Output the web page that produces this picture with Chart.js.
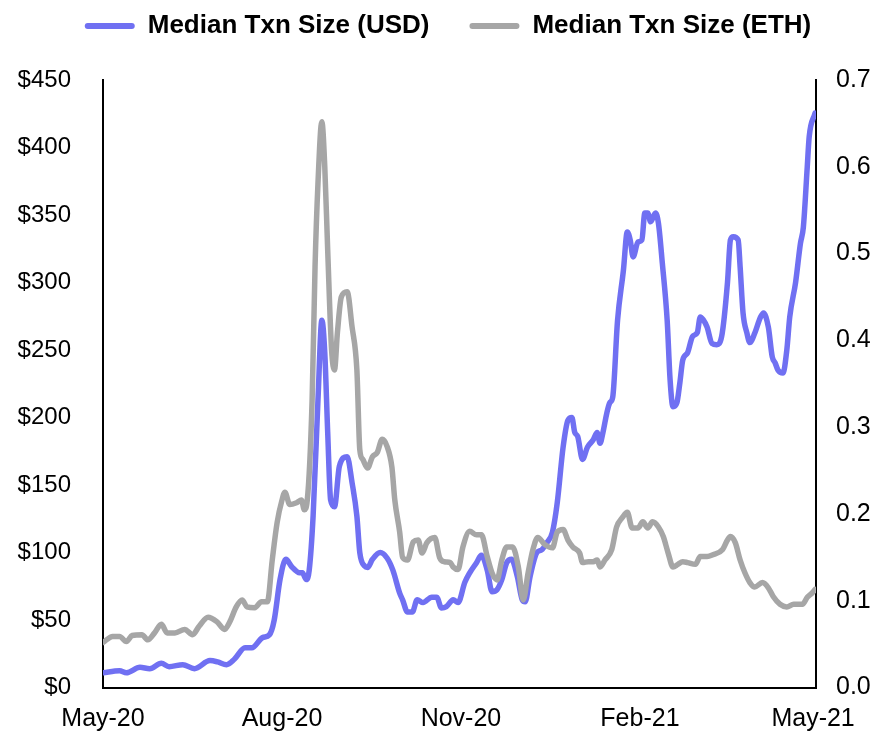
<!DOCTYPE html>
<html>
<head>
<meta charset="utf-8">
<script src="https://cdn.jsdelivr.net/npm/chart.js@4.4.1/dist/chart.umd.min.js"></script>
<style>
  html, body { margin: 0; padding: 0; background: #fff; }
  #chart { display: block; }
</style>
</head>
<body>
<canvas id="chart" width="896" height="734"></canvas>
<script>
// days counted from 1 May 2020
const tickDays = [0, 92, 184, 276, 365];
const tickLabels = ["May-20", "Aug-20", "Nov-20", "Feb-21", "May-21"];

const usdDays = [
  0, 8.5, 12, 19, 24, 30, 34, 41, 47, 55,
  59, 63.5, 67.5, 73, 76.5, 82, 85.5, 88, 91, 94,
  97, 101, 102.5, 104.5, 106, 108, 110.5, 112.5, 114, 115.5,
  117, 119, 121.5, 125.5, 128, 130.5, 132, 134.5, 136, 138.5,
  142.5, 146, 149, 152.5, 154, 156.5, 159, 161.5, 164.5, 169,
  171.5, 174, 176.5, 180, 182.5, 186, 188.5, 192, 194.5, 197.5,
  200, 202.5, 205, 207.5, 210, 213, 215.5, 217, 219.5, 223,
  225.5, 228, 231, 233.5, 236.5, 239, 241, 242.5, 244, 246.5,
  249, 252, 254, 255.5, 257, 259, 260.5, 262, 264.5, 267.5,
  269.5, 271, 272.5, 275, 277, 278.5, 280, 281.5, 284, 285.5,
  287.5, 290, 291.5, 293, 295, 296.5, 298, 300.5, 303, 305.5,
  307, 308.5, 310.5, 313, 315.5, 318, 321, 322.5, 324, 326.5,
  327.5, 329, 331, 332.5, 335, 338, 339.5, 342, 344, 345.5,
  347, 349.5, 351.5, 353, 356, 358.5, 360, 362, 363, 366
];
const usdValues = [
  11, 12.5, 11, 15, 14, 18, 15.5, 17, 14, 20,
  19, 17, 21, 29.5, 29.5, 37, 39, 50, 80, 95,
  89.5, 85, 85, 80, 87, 127, 213, 272, 248, 189,
  139, 134, 164, 171, 152, 127, 100, 90, 89, 95,
  100, 96, 87, 70, 65, 56, 56, 65, 63, 67,
  67, 59, 60, 65, 63, 78, 85, 92.5, 98, 87,
  71, 72.5, 80, 92.5, 95, 82, 65, 63.5, 82, 100,
  102, 107, 115, 137, 178, 198, 200, 189, 186, 169,
  178, 183.5, 189, 181, 189, 203.5, 211, 215, 272, 309,
  337.5, 331.5, 319, 330, 331.5, 351.5, 351.5, 345, 351.5, 344,
  314.5, 272, 228, 208, 211, 225.5, 242.5, 248, 260, 263,
  274.5, 272.5, 267, 255, 254, 260, 300, 331.5, 334, 331.5,
  311.5, 277.5, 262.5, 255.5, 262.5, 274.5, 277.5, 267, 245, 240.5,
  235, 233, 250, 274.5, 300, 329, 341, 385.5, 408, 425.5
];

const ethDays = [
  0, 5, 8.5, 12, 15, 20, 23, 26.5, 30, 33,
  37, 42, 46, 49.5, 54, 58.5, 62.5, 65, 68.5, 71.5,
  74, 78, 81.5, 84.5, 87, 89.5, 92, 93.5, 96, 99.5,
  102, 103.5, 105, 107.5, 109, 110.5, 112.5, 114, 115.5, 117.5,
  119, 120.5, 122.5, 125.5, 128, 130.5, 132, 133.5, 136, 138.5,
  141, 143.5, 146, 148.5, 150, 152.5, 154, 156.5, 159.5, 162,
  164, 166.5, 170.5, 173, 175.5, 178.5, 180, 182.5, 185, 188.5,
  192, 194.5, 197.5, 200, 202.5, 205, 207.5, 210.5, 213.5, 216,
  218.5, 221, 223.5, 227, 231, 233.5, 236.5, 239, 241.5, 245,
  246.5, 249.5, 252, 254, 255.5, 258, 261.5, 264, 267, 269.5,
  272, 275, 277.5, 280, 282.5, 285.5, 288, 290.5, 293, 295.5,
  298, 300.5, 304.5, 307, 310.5, 313.5, 318.5, 321, 322.5, 325,
  327.5, 330, 332.5, 335, 339, 342, 344.5, 348, 351.5, 355,
  359.5, 362, 364.5, 366
];
const ethValues = [
  0.052, 0.059, 0.059, 0.053, 0.060, 0.061, 0.055, 0.063, 0.073, 0.063,
  0.063, 0.067, 0.061, 0.071, 0.081, 0.076, 0.067, 0.075, 0.093, 0.101,
  0.093, 0.092, 0.099, 0.099, 0.147, 0.190, 0.216, 0.225, 0.211, 0.213,
  0.216, 0.205, 0.216, 0.332, 0.485, 0.581, 0.652, 0.600, 0.504, 0.389,
  0.366, 0.409, 0.450, 0.456, 0.416, 0.366, 0.274, 0.263, 0.253, 0.266,
  0.271, 0.286, 0.278, 0.254, 0.216, 0.179, 0.150, 0.147, 0.168, 0.170,
  0.155, 0.167, 0.173, 0.150, 0.145, 0.144, 0.139, 0.136, 0.162, 0.180,
  0.176, 0.176, 0.151, 0.132, 0.124, 0.147, 0.162, 0.162, 0.139, 0.101,
  0.132, 0.159, 0.173, 0.165, 0.161, 0.179, 0.182, 0.170, 0.162, 0.155,
  0.144, 0.145, 0.145, 0.147, 0.139, 0.147, 0.159, 0.185, 0.196, 0.202,
  0.184, 0.184, 0.191, 0.184, 0.191, 0.185, 0.174, 0.155, 0.139, 0.142,
  0.145, 0.144, 0.142, 0.151, 0.151, 0.153, 0.159, 0.170, 0.174, 0.167,
  0.147, 0.132, 0.121, 0.116, 0.121, 0.115, 0.105, 0.096, 0.093, 0.096,
  0.096, 0.104, 0.109, 0.113
];

const usdColor = "#7070F2";
const ethColor = "#A6A6A6";
const font = "'Liberation Sans', Arial, sans-serif";

const toPoints = (xs, ys) => xs.map((x, i) => ({ x: x, y: ys[i] }));

// move the legend up into the top band, chart area stays put
const legendPlacement = {
  id: "legendPlacement",
  afterLayout(chart) {
    chart.legend.top -= 31;
    chart.legend.bottom -= 31;
  }
};

new Chart(document.getElementById("chart"), {
  type: "line",
  data: {
    datasets: [
      {
        label: "Median Txn Size (USD)",
        data: toPoints(usdDays, usdValues),
        yAxisID: "yUsd",
        borderColor: usdColor,
        backgroundColor: usdColor,
        borderWidth: 5.5,
        pointRadius: 0,
        cubicInterpolationMode: "monotone",
        borderCapStyle: "round",
        borderJoinStyle: "round",
        order: 1
      },
      {
        label: "Median Txn Size (ETH)",
        data: toPoints(ethDays, ethValues),
        yAxisID: "yEth",
        borderColor: ethColor,
        backgroundColor: ethColor,
        borderWidth: 5.5,
        pointRadius: 0,
        cubicInterpolationMode: "monotone",
        borderCapStyle: "round",
        borderJoinStyle: "round",
        order: 0
      }
    ]
  },
  options: {
    responsive: false,
    animation: false,
    layout: { padding: { top: 4, left: 0, right: 0, bottom: 0 } },
    plugins: {
      tooltip: { enabled: false },
      legend: {
        position: "top",
        labels: {
          color: "#000",
          font: { family: font, size: 26, weight: "bold" },
          boxWidth: 50,
          boxHeight: 6,
          useBorderRadius: true,
          borderRadius: 3,
          padding: 40,
          sort: (a, b) => a.datasetIndex - b.datasetIndex,
          generateLabels: chart =>
            Chart.defaults.plugins.legend.labels.generateLabels(chart).map(l => ({ ...l, lineWidth: 0 }))
        }
      }
    },
    scales: {
      x: {
        type: "linear",
        min: 0,
        max: 366.5,
        grid: { drawOnChartArea: false, drawTicks: false },
        border: { display: true, color: "#000", width: 2 },
        afterBuildTicks: axis => {
          axis.ticks = tickDays.map(v => ({ value: v }));
        },
        ticks: {
          color: "#000",
          font: { family: font, size: 25 },
          padding: 17,
          maxRotation: 0,
          autoSkip: false,
          callback: v => tickLabels[tickDays.indexOf(v)]
        },
        afterFit: s => { s.height = 46; }
      },
      yUsd: {
        position: "left",
        min: 0,
        max: 450,
        grid: { drawOnChartArea: false, drawTicks: false },
        border: { display: true, color: "#000", width: 2 },
        ticks: {
          stepSize: 50,
          color: "#000",
          font: { family: font, size: 24 },
          padding: 32,
          callback: v => "$" + v
        },
        afterFit: s => { s.width = 103; }
      },
      yEth: {
        position: "right",
        min: 0,
        max: 0.7,
        grid: { drawOnChartArea: false, drawTicks: false },
        border: { display: true, color: "#000", width: 2 },
        ticks: {
          stepSize: 0.1,
          color: "#000",
          font: { family: font, size: 25 },
          padding: 20,
          callback: v => v.toFixed(1)
        },
        afterFit: s => { s.width = 80; }
      }
    }
  },
  plugins: [legendPlacement]
});
</script>
</body>
</html>
